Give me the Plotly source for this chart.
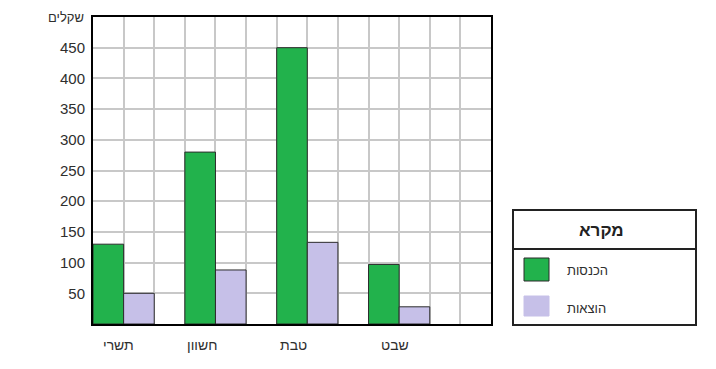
import plotly.graph_objects as go

# Monthly figures (in shekels)
months = ["תשרי", "חשוון", "טבת", "שבט"]
income = [130, 280, 450, 97]
expenses = [50, 88, 133, 28]
y_ticks = [50, 100, 150, 200, 250, 300, 350, 400, 450]

income_name = "הכנסות"
expenses_name = "הוצאות"
legend_title = "מקרא"
y_unit = "שקלים"

GREEN = "#22b24c"
LAVENDER = "#c6c0e8"
EDGE = "#2b2b2b"
GRID = "#c8c8c8"
TEXT = "#2e2e2e"
FONT = "Liberation Sans, Arial, sans-serif"

# group centres on a 13-column grid, each bar one column wide
group_x = [1 + 3 * i for i in range(len(months))]
label_x = [0.83, 3.56, 6.55, 9.88]

W, H = 716, 369
L, R, T, B = 93, 225, 17, 45
PW, PH = W - L - R, H - T - B


def px(x):
    return (x - L) / PW


def py(y):
    return (H - B - y) / PH


fig = go.Figure()
fig.add_trace(go.Bar(x=group_x, y=income, name=income_name, marker=dict(color=GREEN, line=dict(color=EDGE, width=1))))
fig.add_trace(go.Bar(x=group_x, y=expenses, name=expenses_name, marker=dict(color=LAVENDER, line=dict(color=EDGE, width=1))))

fig.update_layout(
    width=W, height=H,
    margin=dict(l=L, r=R, t=T, b=B, pad=0),
    paper_bgcolor="white", plot_bgcolor="white",
    barmode="group", bargap=1 / 3, bargroupgap=0,
    showlegend=False,
    font=dict(family=FONT, size=15, color=TEXT),
    xaxis=dict(
        range=[0, 13], tick0=0, dtick=1, showticklabels=False, ticks="",
        showgrid=True, gridcolor=GRID, gridwidth=1.5, zeroline=False,
        showline=True, linecolor="black", linewidth=2, mirror=True,
    ),
    yaxis=dict(
        range=[0, 500], tickvals=y_ticks, ticks="outside", ticklen=3, tickcolor="rgba(0,0,0,0)",
        showgrid=True, gridcolor=GRID, gridwidth=1.5, zeroline=False,
        showline=True, linecolor="black", linewidth=2, mirror=True,
        tickfont=dict(size=15, color=TEXT),
    ),
)

# month labels under the axis
for lx, name in zip(label_x, months):
    fig.add_annotation(x=lx, y=0, xref="x", yref="paper", yshift=-21, text=name,
                       showarrow=False, xanchor="center", yanchor="middle",
                       font=dict(size=14, color=TEXT))

# unit label at the top of the value axis
fig.add_annotation(x=px(86), y=1, xref="paper", yref="paper", text=y_unit, showarrow=False,
                   xanchor="right", yanchor="middle", font=dict(size=13, color=TEXT))

# legend box with a title row
bx0, bx1, by0, by1, bdiv = 513, 696, 210, 325, 249
fig.add_shape(type="rect", xref="paper", yref="paper", x0=px(bx0), x1=px(bx1), y0=py(by1), y1=py(by0),
              line=dict(color="#222222", width=2), fillcolor="white")
fig.add_shape(type="line", xref="paper", yref="paper", x0=px(bx0), x1=px(bx1), y0=py(bdiv), y1=py(bdiv),
              line=dict(color="#222222", width=2))
fig.add_annotation(x=px(601), y=py(230), xref="paper", yref="paper", text="<b>%s</b>" % legend_title,
                   showarrow=False, xanchor="center", yanchor="middle", font=dict(size=17, color="#222222"))

items = [(income_name, GREEN, EDGE, 258, 281, 270), (expenses_name, LAVENDER, LAVENDER, 296, 316, 308)]
for name, fill, edge, sy0, sy1, ty in items:
    fig.add_shape(type="rect", xref="paper", yref="paper", x0=px(524), x1=px(549), y0=py(sy1), y1=py(sy0),
                  line=dict(color=edge, width=1), fillcolor=fill)
    fig.add_annotation(x=px(565), y=py(ty), xref="paper", yref="paper", text=name, showarrow=False,
                       xanchor="left", yanchor="middle", font=dict(size=13, color=TEXT))

fig.write_html("out.html")
